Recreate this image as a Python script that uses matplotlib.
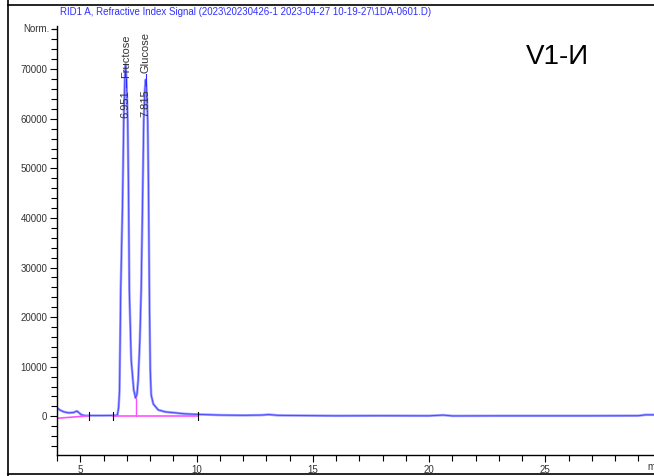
import matplotlib
matplotlib.use("Agg")
import matplotlib.pyplot as plt
from matplotlib.lines import Line2D
from matplotlib.ticker import MultipleLocator

plt.rcParams['font.family'] = ['Liberation Sans', 'DejaVu Sans']

# RID signal (time in min, signal in norm. units)
time = [4.0, 4.15, 4.3, 4.5, 4.7, 4.8, 4.86, 4.95, 5.05, 5.2, 5.6, 6.0, 6.4, 6.55,
        6.60, 6.65, 6.69, 6.74, 6.82, 6.87, 6.92, 6.951, 6.98, 7.04, 7.08, 7.11,
        7.19, 7.30, 7.38, 7.44, 7.49, 7.56, 7.62, 7.68, 7.73, 7.78, 7.815, 7.85,
        7.90, 7.94, 7.97, 8.01, 8.05, 8.14, 8.35, 8.65, 9.08, 9.5, 10.0, 11.0,
        12.0, 12.8, 13.1, 13.5, 14.5, 16.0, 18.0, 20.0, 20.6, 21.0, 23.0, 25.0,
        27.0, 29.0, 29.3, 29.7]
signal = [1700, 1200, 900, 700, 750, 950, 1050, 700, 300, 150, 150, 150, 180, 200,
          300, 1800, 5300, 25500, 43400, 59700, 68500, 71000, 68500, 59700, 43400, 25500,
          11400, 5300, 3700, 4500, 7300, 15000, 25500, 43400, 59700, 66000, 67900, 66000,
          59700, 43400, 25500, 9300, 4300, 2500, 1300, 900, 700, 500, 400, 250,
          200, 250, 350, 200, 150, 100, 120, 100, 250, 80, 100, 100,
          100, 120, 300, 300]

# integration baseline segments (time, signal)
base1_t = [4.0, 5.36]
base1_v = [-400, 100]
base2_t = [6.40, 10.08]
base2_v = [150, 150]
valley_t = 7.38
valley_v = 3700
marks_t = [5.36, 6.40, 10.08]

# peak annotations
peak_rt = [6.951, 7.815]
peak_names = ["Fructose", "Glucose"]
rt_label_y = [60100, 60300]
name_label_y = [68200, 69200]

fig = plt.figure(figsize=(6.54, 4.76), dpi=100)
ax = fig.add_axes([57 / 654, 1 - 455 / 476, 1 - 57 / 654, (455 - 26) / 476])

ax.plot(time, signal, color="#9a9aff", lw=1.8, solid_capstyle="round")
ax.plot(time, signal, color="#2a2aff", lw=0.6, alpha=0.8)

ax.plot(base1_t, base1_v, color="#ff50ff", lw=1.2)
ax.plot(base2_t, base2_v, color="#ff50ff", lw=1.2)
ax.plot([valley_t, valley_t], [base2_v[0], valley_v], color="#ff50ff", lw=1.0)
for t in marks_t:
    ax.plot([t, t], [-700, 900], color="black", lw=0.8)

for rt, name, y1, y2 in zip(peak_rt, peak_names, rt_label_y, name_label_y):
    ax.text(rt, y1, f"{rt:.3f}", rotation=90, ha="center", va="bottom",
            fontsize=8, color="#333333")
    ax.plot([rt, rt], [y1 + 6300, y2 - 200], color="#2a2aff", lw=0.8)
    ax.text(rt, y2, name, rotation=90, ha="center", va="bottom",
            fontsize=8, color="#333333")

ax.set_xlim(4.0, 29.67)
ax.set_ylim(-7800, 78700)

for s in ["top", "right"]:
    ax.spines[s].set_visible(False)
ax.spines["left"].set_linewidth(1.0)
ax.spines["bottom"].set_linewidth(1.0)

ax.xaxis.set_major_locator(MultipleLocator(5))
ax.xaxis.set_minor_locator(MultipleLocator(1))
ax.yaxis.set_major_locator(MultipleLocator(10000))
ax.yaxis.set_minor_locator(MultipleLocator(2000))
ax.tick_params(axis="both", which="major", length=5, width=0.8,
               labelsize=7, labelcolor="#333333", pad=2)
ax.tick_params(axis="both", which="minor", length=4, width=0.8)
ax.set_xticks([5, 10, 15, 20, 25])
ax.set_yticks([0, 10000, 20000, 30000, 40000, 50000, 60000, 70000])

ax.text(-0.012, 78000, "Norm.", transform=ax.get_yaxis_transform(),
        ha="right", va="center", fontsize=7, color="#333333")
ax.plot([0, -0.008], [78000, 78000], transform=ax.get_yaxis_transform(),
        color="black", lw=0.8, clip_on=False)
ax.text(29.4, -10300, "min", ha="left", va="center", fontsize=7,
        color="#333333", clip_on=False)

fig.text(60 / 654, 1 - 12 / 476,
         "RID1 A, Refractive Index Signal (2023\\20230426-1 2023-04-27 10-19-27\\1DA-0601.D)",
         ha="left", va="center", fontsize=7, color="#3030ff")
fig.text(557 / 654, 1 - 57 / 476, "V1-И", ha="center", va="center",
         fontsize=20, color="black")

# outer frame
fig.add_artist(Line2D([7.5 / 654, 7.5 / 654], [0, 1], color="black", lw=1.2))
fig.add_artist(Line2D([7.5 / 654, 1], [1 - 4.5 / 476, 1 - 4.5 / 476], color="black", lw=1.2))
fig.add_artist(Line2D([7.5 / 654, 1], [1 - 473.5 / 476, 1 - 473.5 / 476], color="black", lw=1.2))

fig.savefig("out.png", dpi=100)
